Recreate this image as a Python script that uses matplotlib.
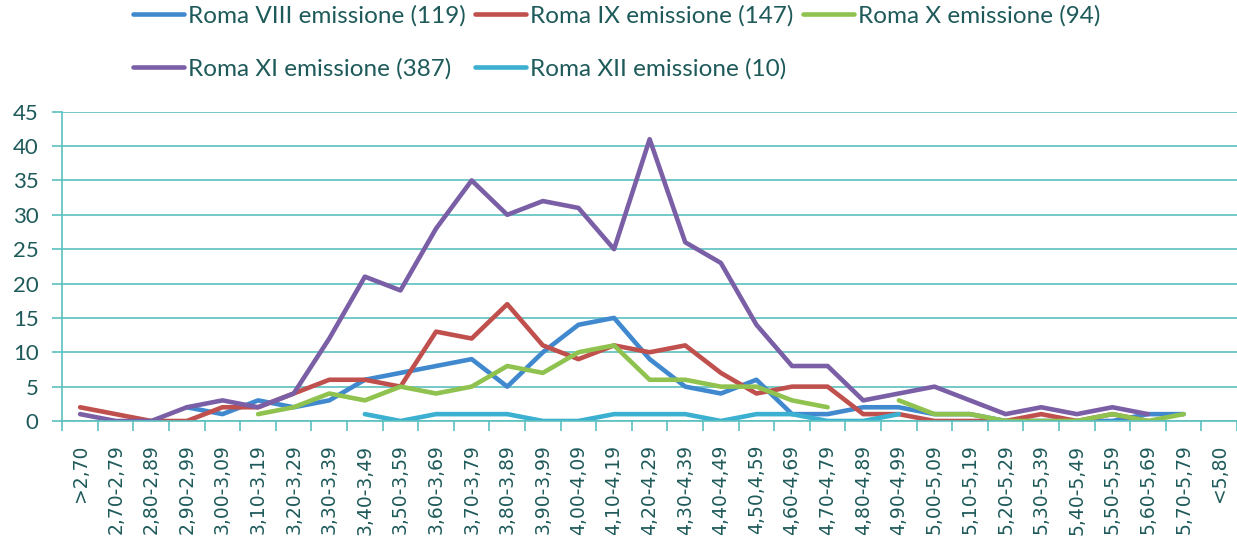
import numpy as np
import matplotlib
matplotlib.use('Agg')
import matplotlib.pyplot as plt

nan = np.nan

categories = ['>2,70', '2,70-2,79', '2,80-2,89', '2,90-2,99', '3,00-3,09', '3,10-3,19',
              '3,20-3,29', '3,30-3,39', '3,40-3,49', '3,50-3,59', '3,60-3,69', '3,70-3,79',
              '3,80-3,89', '3,90-3,99', '4,00-4,09', '4,10-4,19', '4,20-4,29', '4,30-4,39',
              '4,40-4,49', '4,50,4,59', '4,60-4,69', '4,70-4,79', '4,80-4,89', '4,90-4,99',
              '5,00-5,09', '5,10-5,19', '5,20-5,29', '5,30-5,39', '5,40-5,49', '5,50-5,59',
              '5,60-5,69', '5,70-5,79', '<5,80']

roma_viii = [nan, nan, nan, 2, 1, 3, 2, 3, 6, 7, 8, 9, 5, 10, 14, 15, 9, 5, 4, 6, 1, 1,
             2, 2, 1, 1, 0, 0, 0, 0, 1, 1, nan]
roma_ix = [2, 1, 0, 0, 2, 2, 4, 6, 6, 5, 13, 12, 17, 11, 9, 11, 10, 11, 7, 4, 5, 5,
           1, 1, 0, 0, 0, 1, 0, 1, 0, nan, nan]
roma_x = [nan, nan, nan, nan, nan, 1, 2, 4, 3, 5, 4, 5, 8, 7, 10, 11, 6, 6, 5, 5, 3, 2,
          nan, 3, 1, 1, 0, 0, 0, 1, 0, 1, nan]
roma_xi = [1, 0, 0, 2, 3, 2, 4, 12, 21, 19, 28, 35, 30, 32, 31, 25, 41, 26, 23, 14, 8, 8,
           3, 4, 5, 3, 1, 2, 1, 2, 1, nan, nan]
roma_xii = [nan, nan, nan, nan, nan, nan, nan, nan, 1, 0, 1, 1, 1, 0, 0, 1, 1, 1, 0, 1, 1, 0,
            0, 1, nan, nan, nan, nan, nan, nan, nan, nan, nan]

series = [
    ('Roma VIII emissione (119)', roma_viii, '#4189cf'),
    ('Roma IX emissione (147)', roma_ix, '#c0504d'),
    ('Roma X emissione (94)', roma_x, '#8fc24e'),
    ('Roma XI emissione (387)', roma_xi, '#7b5fa6'),
    ('Roma XII emissione (10)', roma_xii, '#3bb0d0'),
]

text_col = '#1f5a5a'
grid_col = '#5cc0c0'

fig = plt.figure(figsize=(12.37, 5.44), dpi=100)
ax = fig.add_axes([62.3 / 1237, 123 / 544, (1237 - 62.3) / 1237, 309.3 / 544])

x = np.arange(len(categories))
lines = []
for name, vals, col in series:
    ln, = ax.plot(x, vals, color=col, lw=3.3, label=name, solid_capstyle='round',
                  solid_joinstyle='round')
    lines.append(ln)

ax.set_xlim(-0.5, len(categories) - 0.5)
ax.set_ylim(0, 45)
ax.set_yticks(range(0, 46, 5))
ax.yaxis.grid(True, color=grid_col, lw=1.2)
ax.set_axisbelow(True)

ax.set_xticks(x)
ax.set_xticklabels(categories, rotation=90, family='DejaVu Sans', fontsize=13.5, color=text_col)
ax.tick_params(axis='x', which='major', length=0, pad=17)
ax.set_xticks(np.arange(-0.5, len(categories), 1), minor=True)
ax.tick_params(axis='x', which='minor', length=7, color=grid_col, width=1.2)
ax.tick_params(axis='y', length=7, color=grid_col, width=1.2, pad=10, labelsize=16,
               labelcolor=text_col)
for lab in ax.get_yticklabels():
    lab.set_family('Lato')

for s in ['top', 'right']:
    ax.spines[s].set_visible(False)
for s in ['left', 'bottom']:
    ax.spines[s].set_color(grid_col)
    ax.spines[s].set_linewidth(1.2)

# legend filled column by column, so reorder to get the row layout of the original
order = [0, 3, 1, 4, 2]
leg = fig.legend([lines[i] for i in order], [series[i][0] for i in order],
                 loc='upper left', bbox_to_anchor=(133 / 1237, 1 - 5 / 544), ncol=3,
                 frameon=False, borderpad=0, borderaxespad=0, handlelength=2.1,
                 handletextpad=0.15, columnspacing=0.4, labelspacing=1.3,
                 prop={'family': 'Lato', 'size': 17.5})
for t in leg.get_texts():
    t.set_color(text_col)

fig.savefig('out.png', dpi=100)
